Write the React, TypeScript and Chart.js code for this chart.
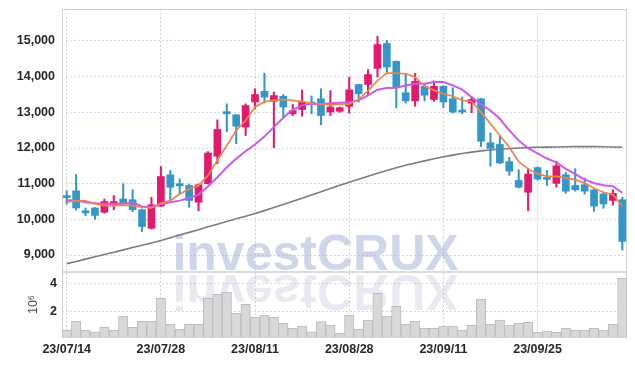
import React, { useEffect, useRef } from 'react';
import { Chart, registerables } from 'chart.js';

Chart.register(...registerables);

const dates = [
  '23/07/14', '23/07/17', '23/07/18', '23/07/19', '23/07/20', '23/07/21', '23/07/24', '23/07/25', '23/07/26', '23/07/27',
  '23/07/28', '23/07/31', '23/08/01', '23/08/02', '23/08/03', '23/08/04', '23/08/07', '23/08/08', '23/08/09', '23/08/10',
  '23/08/11', '23/08/14', '23/08/16', '23/08/17', '23/08/18', '23/08/21', '23/08/22', '23/08/23', '23/08/24', '23/08/25',
  '23/08/28', '23/08/29', '23/08/30', '23/08/31', '23/09/01', '23/09/04', '23/09/05', '23/09/06', '23/09/07', '23/09/08',
  '23/09/11', '23/09/12', '23/09/13', '23/09/14', '23/09/15', '23/09/18', '23/09/19', '23/09/20', '23/09/21', '23/09/22',
  '23/09/25', '23/09/26', '23/09/27', '23/10/04', '23/10/05', '23/10/06', '23/10/10', '23/10/11', '23/10/12', '23/10/13',
];

const opens = [
  10640, 10800, 10240, 10320, 10200, 10400, 10570, 10550, 10270, 9750,
  10370, 11250, 11000, 10950, 10480, 11000, 11770, 13020, 12930, 12590,
  13290, 13590, 13310, 13450, 12960, 13080, 13250, 13380, 13010, 13030,
  13170, 13780, 13780, 14230, 14930, 14430, 13550, 13320, 13730, 13360,
  13730, 13380, 13030, 13260, 13380, 12150, 12100, 11620, 11090, 10760,
  11450, 11150, 11010, 11250, 10950, 10970, 10830, 10710, 10530, 10550,
];
const highs = [
  10800, 11260, 10320, 10330, 10570, 10670, 11000, 10830, 10290, 10620,
  11480, 11370, 11130, 10990, 10990, 11900, 12790, 13240, 12940, 13240,
  13660, 14100, 13570, 13500, 13220, 13630, 13460, 13660, 13610, 13150,
  13990, 13790, 14200, 15130, 15020, 14440, 14090, 14090, 13800, 13880,
  13740, 13690, 13430, 13410, 13390, 12420, 12330, 11740, 11390, 11420,
  11470, 11370, 11630, 11320, 11420, 11160, 10840, 10760, 10830, 10620,
];
const lows = [
  10430, 10260, 10100, 10000, 10170, 10270, 10390, 10220, 9660, 9730,
  10360, 10530, 10700, 10340, 10240, 10990, 11560, 12460, 12120, 12350,
  13100, 13260, 12010, 12820, 12910, 12890, 12960, 12650, 12910, 13000,
  12980, 13290, 13480, 13990, 14080, 13130, 13260, 13170, 13320, 13310,
  13130, 12980, 12960, 12990, 12040, 11490, 11560, 11230, 10880, 10240,
  11100, 10950, 10900, 10730, 10790, 10710, 10225, 10310, 10400, 9140,
];
const closes = [
  10610, 10320, 10180, 10110, 10500, 10500, 10430, 10270, 9800, 10410,
  11200, 10900, 10940, 10530, 10970, 11860, 12520, 12960, 12610, 13190,
  13500, 13430, 13470, 13150, 13050, 13290, 13230, 12910, 13150, 13130,
  13630, 13520, 14060, 14900, 14270, 13710, 13320, 13870, 13480, 13730,
  13290, 13010, 13010, 13360, 12190, 11990, 11580, 11350, 10900, 11270,
  11130, 11120, 11500, 10790, 10830, 10790, 10370, 10430, 10730, 9380,
];

const ma5 = [
  10480, 10525, 10520, 10435, 10385, 10385, 10400, 10385, 10340, 10320,
  10450, 10525, 10710, 10850, 10945, 11230, 11650, 12070, 12490, 12770,
  13150, 13300, 13335, 13360, 13335, 13300, 13255, 13240, 13200, 13230,
  13230, 13370, 13600, 13890, 14100, 14100, 14080, 13990, 13730, 13620,
  13520, 13450, 13335, 13305, 13005, 12680, 12350, 12020, 11620, 11415,
  11275, 11205, 11205, 11165, 11105, 11020, 10870, 10760, 10695, 10365,
];
const ma10 = [
  10545, 10525, 10480, 10450, 10435, 10435, 10435, 10475, 10360, 10340,
  10420, 10480, 10525, 10600, 10695, 10920, 11180, 11460, 11700, 11910,
  12100, 12320, 12585, 12850, 13070, 13195, 13240, 13225, 13255, 13270,
  13285, 13335, 13475, 13635, 13680, 13690, 13755, 13800, 13805, 13848,
  13848, 13756, 13635, 13427, 13222, 13053, 12820, 12492, 12211, 11994,
  11850, 11705, 11600, 11416, 11265, 11120, 11011, 10955, 10927, 10745,
];
const ma60 = [
  8760, 8820, 8885, 8950, 9015, 9080, 9145, 9210, 9275, 9340,
  9410, 9485, 9560, 9635, 9710, 9790, 9865, 9940, 10015, 10090,
  10165, 10245, 10330, 10415, 10505, 10595, 10685, 10775, 10865, 10955,
  11040, 11125, 11210, 11290, 11370, 11445, 11515, 11580, 11640, 11700,
  11755, 11800, 11845, 11885, 11920, 11945, 11965, 11985, 12000, 12010,
  12020, 12025, 12030, 12035, 12040, 12040, 12040, 12035, 12030, 12020,
];
const volumes = [
  0.71, 1.32, 0.69, 0.59, 0.90, 0.69, 1.70, 0.90, 1.32, 1.32,
  2.94, 1.11, 0.76, 1.11, 1.11, 2.94, 3.23, 3.37, 1.89, 2.52,
  1.63, 1.77, 1.61, 1.18, 0.83, 0.99, 0.59, 1.30, 1.04, 0.48,
  1.76, 0.76, 1.40, 3.30, 1.70, 2.38, 1.12, 1.32, 0.83, 0.83,
  0.99, 0.99, 0.71, 1.04, 2.89, 1.11, 1.42, 1.06, 1.18, 1.25,
  0.55, 0.64, 0.55, 0.83, 0.71, 0.71, 0.83, 0.71, 1.11, 4.35,
].map((v) => v * 1e6);

const priceTicks = [9000, 10000, 11000, 12000, 13000, 14000, 15000];
const volumeTicks = [2, 4];
const xTickIndices = [0, 10, 20, 30, 40, 50];

const UP = '#e3196b';
const DOWN = '#3497c9';
const GRID = 'rgba(170,176,212,0.7)';
const FONT = '"Liberation Sans", Arial, sans-serif';

export default function App() {
  const ref = useRef<HTMLCanvasElement>(null);

  useEffect(() => {
    if (!ref.current) return;
    const colors = opens.map((o, i) => (closes[i] >= o ? UP : DOWN));

    const watermark = {
      id: 'watermark',
      beforeDraw(chart: any) {
        const { ctx } = chart;
        const y2 = chart.scales.y2;
        const cx = chart.width / 2 - 2;
        const sep = y2.top;
        ctx.save();
        ctx.font = 'bold 50px "Liberation Sans", Arial, sans-serif';
        ctx.textAlign = 'center';
        ctx.textBaseline = 'alphabetic';
        ctx.fillStyle = 'rgba(170,180,216,0.55)';
        ctx.fillText('investCRUX', cx, sep - 2);
        ctx.translate(0, 2 * sep + 1);
        ctx.scale(1, -1);
        ctx.fillStyle = 'rgba(200,200,222,0.4)';
        ctx.fillText('investCRUX', cx, sep - 2);
        ctx.restore();
      },
    };

    const frame = {
      id: 'frame',
      beforeDatasetsDraw(chart: any) {
        const { ctx, chartArea } = chart;
        const y2 = chart.scales.y2;
        ctx.save();
        ctx.strokeStyle = '#d0d0d0';
        ctx.lineWidth = 1;
        ctx.strokeRect(chartArea.left + 0.5, chartArea.top + 0.5, chartArea.right - chartArea.left - 1, chartArea.bottom - chartArea.top);
        ctx.lineWidth = 1.5;
        ctx.strokeStyle = '#cfcfcf';
        ctx.beginPath();
        ctx.moveTo(chartArea.left, y2.top);
        ctx.lineTo(chartArea.right, y2.top);
        ctx.stroke();
        ctx.restore();
      },
    };

    const fitY = (scale: any) => {
      scale.width = 54;
      scale.paddingTop = 0;
      scale.paddingBottom = 0;
    };

    const tickFont = { family: FONT, size: 12.5, weight: 'bold' };
    const gridOpts = { color: GRID, drawTicks: false, lineWidth: 1 };
    const borderOpts = { display: false, dash: [1.5, 2.5] };

    const chart = new Chart(ref.current, {
      type: 'bar',
      data: {
        labels: dates,
        datasets: [
          { type: 'line', data: ma5, borderColor: '#f0844c', borderWidth: 1.7, pointRadius: 0, yAxisID: 'y', order: 0 } as any,
          { type: 'line', data: ma10, borderColor: '#cc5ae8', borderWidth: 2, pointRadius: 0, yAxisID: 'y', order: 0 } as any,
          { type: 'line', data: ma60, borderColor: '#7c7c7c', borderWidth: 1.6, pointRadius: 0, yAxisID: 'y', order: 0 } as any,
          {
            type: 'bar',
            data: opens.map((o, i) => [o, closes[i]]),
            backgroundColor: colors,
            borderWidth: 0,
            barThickness: 7,
            minBarLength: 2,
            grouped: false,
            yAxisID: 'y',
            order: 1,
          } as any,
          {
            type: 'bar',
            data: lows.map((l, i) => [l, highs[i]]),
            backgroundColor: colors,
            borderWidth: 0,
            barThickness: 1.4,
            grouped: false,
            yAxisID: 'y',
            order: 2,
          } as any,
          {
            type: 'bar',
            data: volumes,
            backgroundColor: '#d8d8d8',
            borderColor: '#bdbdbd',
            borderWidth: 1,
            barPercentage: 1,
            categoryPercentage: 1,
            grouped: false,
            yAxisID: 'y2',
            order: 3,
            clip: 0,
          } as any,
        ],
      },
      options: {
        animation: false,
        responsive: true,
        maintainAspectRatio: false,
        layout: { padding: { top: 1, left: 0, right: 0, bottom: 0 } },
        plugins: { legend: { display: false }, tooltip: { enabled: false } },
        scales: {
          x: {
            type: 'category',
            offset: true,
            grid: { ...gridOpts, offset: false },
            border: borderOpts,
            ticks: {
              autoSkip: false,
              maxRotation: 0,
              padding: 5,
              color: '#262626',
              font: tickFont,
              callback: (_v: any, i: number) => (xTickIndices.includes(i) ? dates[i] : null),
            },
            afterFit: (scale: any) => {
              scale.height = 21;
              scale.paddingLeft = 0;
              scale.paddingRight = 0;
            },
          },
          y: {
            type: 'linear',
            position: 'left',
            stack: 'main',
            stackWeight: 4.05,
            weight: 1,
            min: 8523,
            max: 15897,
            grid: gridOpts,
            border: borderOpts,
            ticks: {
              autoSkip: false,
              padding: 7,
              color: '#262626',
              font: tickFont,
              callback: (v: any) => Number(v).toLocaleString('en-US'),
            },
            afterBuildTicks: (scale: any) => {
              scale.ticks = priceTicks.map((v) => ({ value: v }));
            },
            afterFit: fitY,
          },
          y2: {
            type: 'linear',
            position: 'left',
            stack: 'main',
            stackWeight: 1,
            weight: 0,
            min: 0.22e6,
            max: 4.8e6,
            grid: gridOpts,
            border: borderOpts,
            title: {
              display: true,
              text: '10\u2076',
              color: '#444',
              font: { family: FONT, size: 12.5 },
              padding: { top: 18, bottom: 0 },
            },
            ticks: {
              autoSkip: false,
              padding: 5,
              color: '#262626',
              font: tickFont,
              callback: (v: any) => String(Number(v) / 1e6),
            },
            afterBuildTicks: (scale: any) => {
              scale.ticks = volumeTicks.map((v) => ({ value: v * 1e6 }));
            },
            afterFit: fitY,
          },
        },
      } as any,
      plugins: [watermark, frame],
    });

    return () => chart.destroy();
  }, []);

  return (
    <div style={{ position: 'relative', width: 619, height: 350 }}>
      <canvas ref={ref} />
    </div>
  );
}
